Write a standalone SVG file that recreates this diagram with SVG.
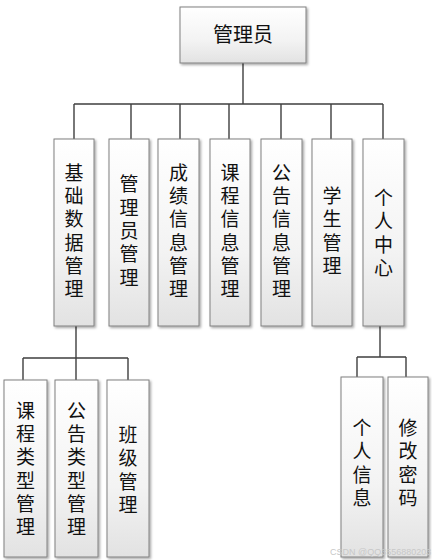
<svg xmlns="http://www.w3.org/2000/svg" width="432" height="560" viewBox="0 0 432 560">
<defs>
<linearGradient id="g" x1="0" y1="0" x2="0" y2="1">
<stop offset="0" stop-color="#ffffff"/>
<stop offset="0.6" stop-color="#f3f3f3"/>
<stop offset="1" stop-color="#e2e2e2"/>
</linearGradient>
<filter id="sh" x="-20%" y="-10%" width="140%" height="130%">
<feDropShadow dx="1.5" dy="1.5" stdDeviation="1" flood-color="#000" flood-opacity="0.35"/>
</filter>
</defs>
<style>
.box{fill:url(#g);stroke:#808080;stroke-width:1;filter:url(#sh)}
.t{font-family:"Noto Sans CJK SC","Noto Sans CJK JP",sans-serif;font-size:19px;fill:#111;text-anchor:middle;writing-mode:vertical-rl;letter-spacing:4.3px}
.tt{font-family:"Noto Sans CJK SC","Noto Sans CJK JP",sans-serif;font-size:20px;fill:#111;text-anchor:middle}
.c{fill:none;stroke:#3f3f3f;stroke-width:1.4}
.wm{font-family:"Liberation Sans",sans-serif;font-size:9px;fill:#c8c8c8}
</style>
<rect width="432" height="560" fill="#ffffff"/>
<g id="connectors">
<path class="c" d="M243 63V104M74 104H383M74 104V139M131 104V139M180 104V139M229 104V139M281 104V139M331 104V139M383 104V139"/>
<path class="c" d="M76 326V380M23 358H128M23 358V380M128 358V380"/>
<path class="c" d="M380 326V357M357 357H406M357 357V377M406 357V377"/>
</g>
<g id="n-root"><rect class="box" x="180" y="7" width="126" height="56"/><text class="tt" x="243" y="42">管理员</text></g>
<g id="n-jichu"><rect class="box" x="54" y="139" width="40" height="187"/><text class="t" x="74" y="233">基础数据管理</text></g>
<g id="n-admin"><rect class="box" x="109" y="139" width="40" height="187"/><text class="t" x="129" y="233">管理员管理</text></g>
<g id="n-score"><rect class="box" x="158" y="139" width="41" height="187"/><text class="t" x="178.5" y="233">成绩信息管理</text></g>
<g id="n-course"><rect class="box" x="210" y="139" width="40" height="187"/><text class="t" x="230" y="233">课程信息管理</text></g>
<g id="n-notice"><rect class="box" x="261" y="139" width="41" height="187"/><text class="t" x="281.5" y="233">公告信息管理</text></g>
<g id="n-student"><rect class="box" x="312" y="139" width="40" height="187"/><text class="t" x="332" y="233">学生管理</text></g>
<g id="n-center"><rect class="box" x="363" y="139" width="41" height="187"/><text class="t" x="383.5" y="235">个人中心</text></g>
<g id="n-coursetype"><rect class="box" x="4" y="380" width="43" height="177"/><text class="t" x="25.5" y="471">课程类型管理</text></g>
<g id="n-noticetype"><rect class="box" x="55" y="380" width="43" height="177"/><text class="t" x="76.5" y="471">公告类型管理</text></g>
<g id="n-class"><rect class="box" x="107" y="380" width="42" height="177"/><text class="t" x="128" y="472">班级管理</text></g>
<g id="n-info"><rect class="box" x="341" y="377" width="42" height="180"/><text class="t" x="362" y="465">个人信息</text></g>
<g id="n-pwd"><rect class="box" x="388" y="377" width="40" height="180"/><text class="t" x="408" y="465">修改密码</text></g>
<text class="wm" x="330" y="555">CSDN @QQ3556880203</text>
</svg>
